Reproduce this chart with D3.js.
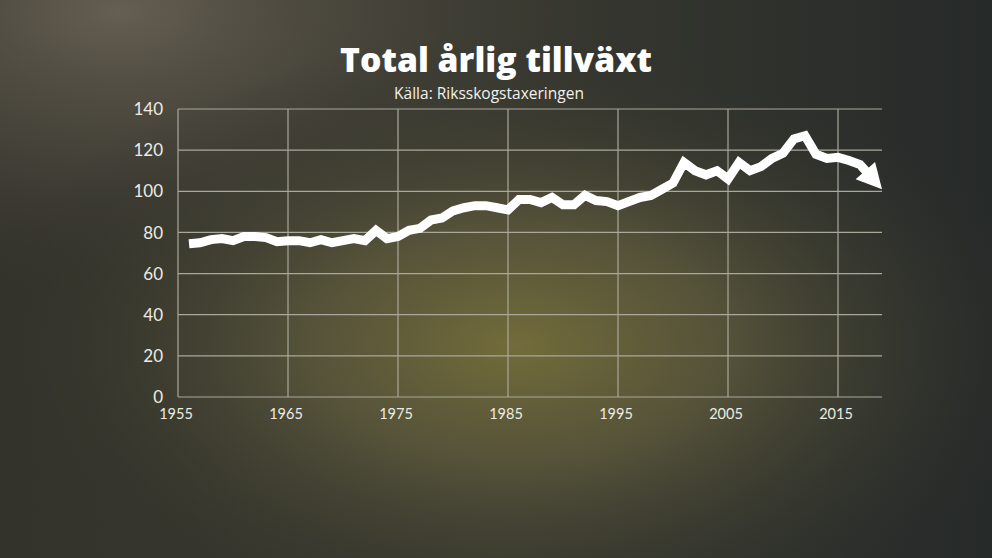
<!DOCTYPE html>
<html><head><meta charset="utf-8">
<script src="https://cdn.jsdelivr.net/npm/d3@7"></script>
<style>html,body{margin:0;padding:0;background:#2b2d29;overflow:hidden}</style>
</head><body>
<svg id="c" width="992" height="558"></svg>
<script>
const years = [1956,1957,1958,1959,1960,1961,1962,1963,1964,1965,1966,1967,1968,1969,1970,1971,1972,1973,1974,1975,1976,1977,1978,1979,1980,1981,1982,1983,1984,1985,1986,1987,1988,1989,1990,1991,1992,1993,1994,1995,1996,1997,1998,1999,2000,2001,2002,2003,2004,2005,2006,2007,2008,2009,2010,2011,2012,2013,2014,2015,2016,2017,2018,2019];
const values = [74.5,75,76.5,77,76,78,78,77.5,75.5,76,76,75,76.5,75,76,77,76,81,77,78,81,82,86,87,90.5,92,93,93,92,91,96,96,94.5,97,93.5,93.5,98,95.5,95,93,95,97,98,101,104,114,110,108,110,106,114,110,112,116,118.5,125.5,127,118,116,116.5,115,113,107.5,101];
const xTicks = [1955,1965,1975,1985,1995,2005,2015];
const yTicks = [0,20,40,60,80,100,120,140];
const title = "Total årlig tillväxt";
const subtitle = "Källa: Riksskogstaxeringen";

const svg = d3.select("#c");
const defs = svg.append("defs");
const g3 = defs.append("linearGradient").attr("id","base").attr("x1",0).attr("x2",1).attr("y1",0).attr("y2",0);
g3.append("stop").attr("offset","0%").attr("stop-color","#34332b");
g3.append("stop").attr("offset","50%").attr("stop-color","#393930");
g3.append("stop").attr("offset","100%").attr("stop-color","#262a29");
const g2 = defs.append("radialGradient").attr("id","glow2").attr("cx",0.12).attr("cy",0.02).attr("r",0.5);
g2.append("stop").attr("offset","0%").attr("stop-color","#655e52");
g2.append("stop").attr("offset","50%").attr("stop-color","#4f4b41").attr("stop-opacity",0.65);
g2.append("stop").attr("offset","100%").attr("stop-color","#3a3a34").attr("stop-opacity",0);
const g1 = defs.append("radialGradient").attr("id","glow").attr("cx",0.52).attr("cy",0.62).attr("r",0.55);
g1.append("stop").attr("offset","0%").attr("stop-color","#726c3a");
g1.append("stop").attr("offset","40%").attr("stop-color","#57543a").attr("stop-opacity",0.9);
g1.append("stop").attr("offset","100%").attr("stop-color","#2c2e2a").attr("stop-opacity",0);
svg.append("rect").attr("width",992).attr("height",558).attr("fill","url(#base)");
svg.append("rect").attr("width",992).attr("height",558).attr("fill","url(#glow2)");
svg.append("rect").attr("width",992).attr("height",558).attr("fill","url(#glow)");

const x = d3.scaleLinear().domain([1955,2019]).range([178,882]);
const y = d3.scaleLinear().domain([0,140]).range([397,109]);
const grid = "#a9a89b";

svg.append("g").selectAll("line").data(yTicks).join("line")
  .attr("x1",x(1955)).attr("x2",x(2019)).attr("y1",d=>y(d)).attr("y2",d=>y(d))
  .attr("stroke",grid).attr("stroke-width",1.2);
svg.append("g").selectAll("line").data(xTicks).join("line")
  .attr("x1",d=>x(d)).attr("x2",d=>x(d)).attr("y1",y(0)).attr("y2",y(140))
  .attr("stroke",grid).attr("stroke-width",1.2);

svg.append("g").selectAll("text").data(yTicks).join("text")
  .attr("x",163).attr("y",d=>y(d)).attr("dy","0.36em").attr("text-anchor","end")
  .attr("fill","#ecebe4").attr("font-family","Lato, sans-serif").attr("font-size",17)
  .text(d=>d);
svg.append("g").selectAll("text").data(xTicks).join("text")
  .attr("x",d=>x(d)-2).attr("y",419).attr("text-anchor","middle")
  .attr("fill","#ecebe4").attr("font-family","Lato, sans-serif").attr("font-size",14.5)
  .text(d=>d);

// line with arrowhead
const pts = years.map((yr,i)=>[x(yr),y(values[i])]);
const n = pts.length;
const tip = pts[n-1], from = pts[n-3];
const dx = tip[0]-from[0], dy = tip[1]-from[1], L = Math.hypot(dx,dy);
const ux = dx/L, uy = dy/L;
const headLen = 25, headHalf = 13;
const baseC = [tip[0]-ux*headLen, tip[1]-uy*headLen];
const linePts = pts.slice(0,n-2).concat([[baseC[0]+ux*2, baseC[1]+uy*2]]);
svg.append("path").attr("d",d3.line()(linePts))
  .attr("fill","none").attr("stroke","#fff").attr("stroke-width",9)
  .attr("stroke-linejoin","miter").attr("stroke-miterlimit",3);
const head = [tip,[baseC[0]-uy*headHalf, baseC[1]+ux*headHalf],[baseC[0]+uy*headHalf, baseC[1]-ux*headHalf]];
svg.append("path").attr("d",d3.line()(head)+"Z").attr("fill","#fff");

const t = svg.append("text").attr("x",496).attr("y",72).attr("text-anchor","middle")
  .attr("fill","#fff").attr("font-family","'Open Sans', sans-serif").attr("font-weight",800)
  .attr("font-size",32).text(title);
const tw = t.node().getComputedTextLength();
t.attr("font-size",32*312/tw);
const s = svg.append("text").attr("x",489).attr("y",99).attr("text-anchor","middle")
  .attr("fill","#f2f1ea").attr("font-family","'Open Sans', sans-serif").attr("font-size",14)
  .text(subtitle);
const sw = s.node().getComputedTextLength();
s.attr("font-size",14*190/sw);
</script>
</body></html>
